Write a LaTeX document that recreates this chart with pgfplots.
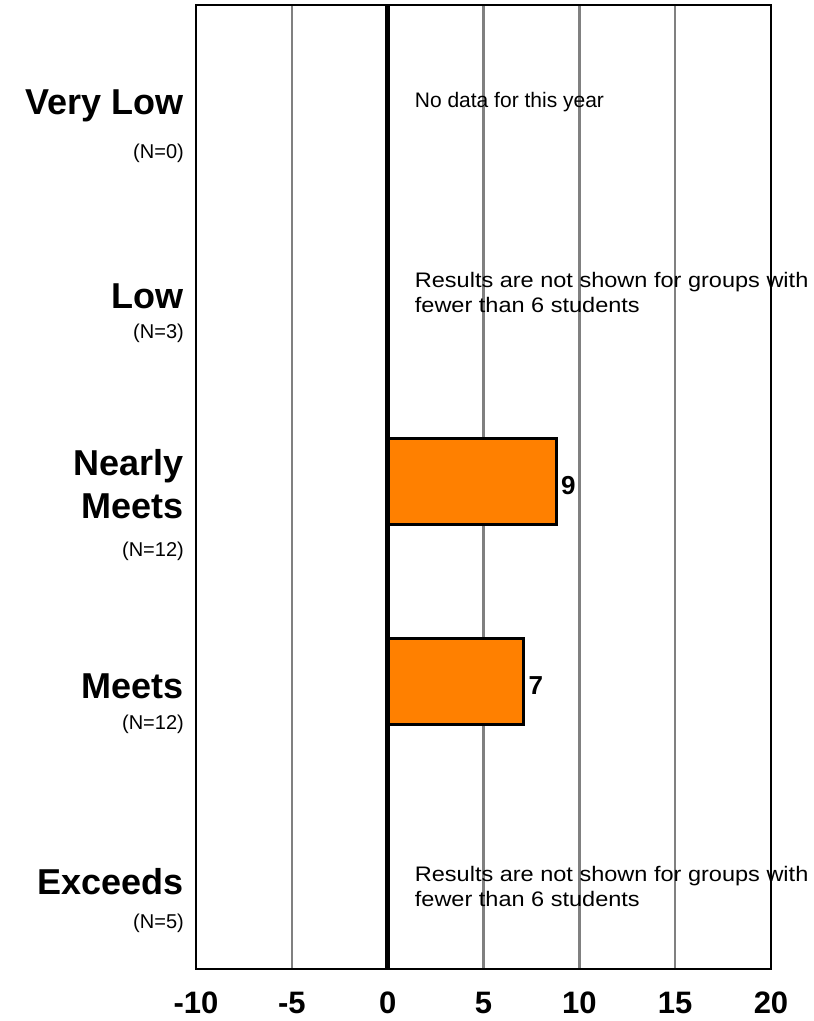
\documentclass[border=0pt]{standalone}
\usepackage{fontspec}
\setmainfont{Liberation Sans}
\newfontfamily\widefont[FakeStretch=1.12]{Liberation Sans}
\usepackage{pgfplots}
\pgfplotsset{compat=1.18}
\definecolor{barorange}{RGB}{255,128,0}
\definecolor{gridgray}{RGB}{128,128,128}
\begin{document}
\begin{tikzpicture}[x=1pt,y=1pt]
\useasboundingbox (-196,-52) rectangle (618,969);
\begin{axis}[
  at={(0,0)}, anchor=south west,
  scale only axis, width=575pt, height=964pt,
  xmin=-10, xmax=20, ymin=5, ymax=969, y dir=reverse,
  xtick={-10,-5,0,5,10,15,20},
  xticklabels={-10,-5,0,5,10,15,20},
  ytick=\empty,
  major tick length=0pt,
  xmajorgrids, grid style={gridgray, line width=2.6pt},
  axis line style={black, line width=2.6pt},
  xticklabel style={font=\fontsize{31}{31}\selectfont\bfseries, anchor=base, inner sep=0pt, yshift=-44pt},
  clip=false,
]
\addplot[xbar, fill=barorange, draw=black, line width=3pt, bar width=86,
  nodes near coords={\pgfmathprintnumber[fixed,precision=0,assume math mode=true]{\pgfplotspointmeta}},
  every node near coord/.append style={font=\fontsize{26}{26}\selectfont\bfseries, black, anchor=west, yshift=-4pt}]
  coordinates {(8.8,481.5) (7.1,681.5)};
\draw[black, line width=4.5pt] (axis cs:0,5) -- (axis cs:0,969);
% annotations
\node[anchor=base west, inner sep=0pt, font=\fontsize{21}{21}\selectfont] at (axis cs:1.41,107) {No data for this year};
\node[anchor=base west, inner sep=0pt, font=\widefont\fontsize{21}{21}\selectfont] at (axis cs:1.41,287) {Results are not shown for groups with};
\node[anchor=base west, inner sep=0pt, font=\widefont\fontsize{21}{21}\selectfont] at (axis cs:1.41,312) {fewer than 6 students};
\node[anchor=base west, inner sep=0pt, font=\widefont\fontsize{21}{21}\selectfont] at (axis cs:1.41,881) {Results are not shown for groups with};
\node[anchor=base west, inner sep=0pt, font=\widefont\fontsize{21}{21}\selectfont] at (axis cs:1.41,906) {fewer than 6 students};
% category labels
\tikzset{cat/.style={anchor=base east, inner sep=0pt, xshift=-12pt, font=\fontsize{36}{36}\selectfont\bfseries},
         nlab/.style={anchor=base east, inner sep=0pt, xshift=-12pt, font=\fontsize{20}{20}\selectfont}}
\node[cat] at (axis cs:-10,114) {Very Low};
\node[nlab] at (axis cs:-10,158) {(N=0)};
\node[cat] at (axis cs:-10,308) {Low};
\node[nlab] at (axis cs:-10,338) {(N=3)};
\node[cat] at (axis cs:-10,475) {Nearly\ };
\node[cat] at (axis cs:-10,518) {Meets};
\node[nlab] at (axis cs:-10,556) {(N=12)};
\node[cat] at (axis cs:-10,698) {Meets};
\node[nlab] at (axis cs:-10,729) {(N=12)};
\node[cat] at (axis cs:-10,894) {Exceeds};
\node[nlab] at (axis cs:-10,928) {(N=5)};
\end{axis}
\end{tikzpicture}
\end{document}
